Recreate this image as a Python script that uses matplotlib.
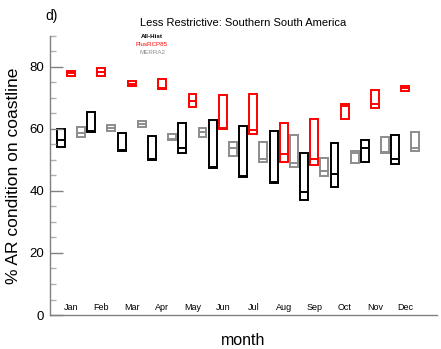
import numpy as np
import matplotlib.pyplot as plt

plt.rcParams['font.family'] = ['Liberation Sans', 'DejaVu Sans']

months = ['Jan', 'Feb', 'Mar', 'Apr', 'May', 'Jun', 'Jul', 'Aug', 'Sep', 'Oct', 'Nov', 'Dec']

# All-Hist (min, median, max)
hist_lo = [54.3, 59.0, 53.0, 50.0, 52.3, 47.3, 44.4, 42.7, 37.1, 41.4, 49.2, 48.8]
hist_md = [56.3, 59.3, 53.3, 50.3, 54.0, 47.6, 44.7, 43.0, 39.6, 45.4, 54.0, 50.2]
hist_hi = [60.0, 65.4, 58.7, 57.6, 61.9, 63.0, 61.1, 59.4, 52.2, 55.4, 56.6, 57.9]

# PlusRCP85
rcp_lo = [77.2, 77.0, 73.7, 72.8, 67.1, 60.0, 58.4, 49.5, 48.3, 63.2, 66.9, 72.4]
rcp_md = [78.1, 78.5, 74.6, 73.3, 68.9, 60.3, 59.7, 51.8, 50.2, 67.5, 68.1, 73.1]
rcp_hi = [78.8, 79.8, 75.5, 76.2, 71.2, 71.1, 71.2, 61.8, 63.1, 68.1, 72.6, 74.0]

# MERRA2
merra_lo = [57.3, 59.5, 60.6, 56.5, 57.4, 51.3, 49.4, 47.8, 44.8, 48.9, 52.4, 52.9]
merra_md = [58.6, 60.4, 61.6, 56.8, 59.0, 53.8, 50.4, 48.9, 46.5, 52.2, 52.7, 53.8]
merra_hi = [60.5, 61.3, 62.5, 58.4, 60.3, 55.9, 55.8, 58.2, 50.5, 52.8, 57.5, 59.1]

x = np.arange(1, 13)
w = 0.26
off = 0.33

fig = plt.figure(figsize=(4.41, 3.49), dpi=100)
ax = fig.add_axes([0.113, 0.0974, 0.878, 0.7996])

series = [(x - off, hist_lo, hist_md, hist_hi, 'black'),
          (x, rcp_lo, rcp_md, rcp_hi, 'red'),
          (x + off, merra_lo, merra_md, merra_hi, '#8c8c8c')]
for xs, lo, md, hi, c in series:
    lo = np.array(lo)
    hi = np.array(hi)
    ax.bar(xs, hi - lo, bottom=lo, width=w, fill=False, edgecolor=c, linewidth=1.4)
    ax.hlines(md, xs - w / 2, xs + w / 2, color=c, linewidth=1.4)

# month names sit inside the axes
for i, m in enumerate(months):
    ax.text(x[i], 2.3, m, ha='center', va='center', fontsize=6.5)

ax.set_xlim(0.31, 13.04)
ax.set_ylim(0, 90)
ax.set_xticks([])
ax.set_yticks([0, 20, 40, 60, 80])
ax.set_yticks(np.arange(0, 91, 5), minor=True)
ax.tick_params(axis='y', which='major', direction='in', length=9.4, width=1, color='#808080', labelsize=9.5, pad=4)
ax.tick_params(axis='y', which='minor', direction='in', length=4.3, width=1, color='#b0b0b0')

for s in ['top', 'right']:
    ax.spines[s].set_visible(False)
for s in ['left', 'bottom']:
    ax.spines[s].set_color('#808080')
    ax.spines[s].set_linewidth(1)

ax.set_ylabel('% AR condition on coastline', fontsize=12.5, labelpad=6)
ax.set_xlabel('month', fontsize=11.5, labelpad=13)

fig.text(243 / 441, 1 - 23 / 349, 'Less Restrictive: Southern South America', ha='center', va='center', fontsize=8)
fig.text(45 / 441, 1 - 16 / 349, 'd)', ha='left', va='center', fontsize=10)
fig.text(152 / 441, 1 - 36 / 349, 'All-Hist', ha='center', va='center', fontsize=4.5, color='black', fontweight='bold')
fig.text(152 / 441, 1 - 44 / 349, 'PlusRCP85', ha='center', va='center', fontsize=4.5, color='red')
fig.text(152 / 441, 1 - 52 / 349, 'MERRA2', ha='center', va='center', fontsize=4.5, color='#8c8c8c')

fig.savefig('out.png', dpi=100)
